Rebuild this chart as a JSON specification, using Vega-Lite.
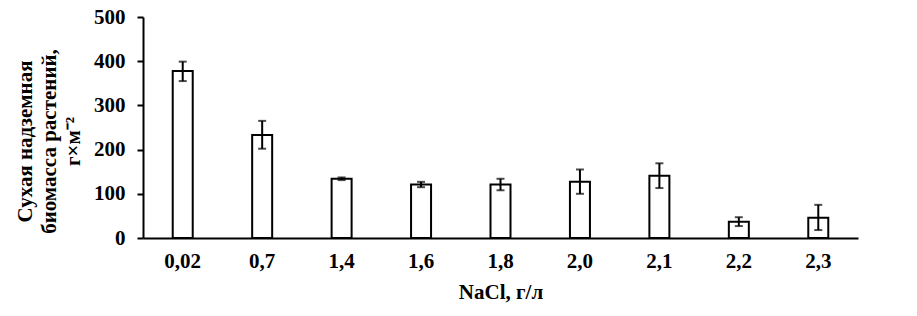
{
  "$schema": "https://vega.github.io/schema/vega-lite/v6.json",
  "autosize": "none",
  "width": 715,
  "height": 221,
  "padding": {"left": 143, "top": 17, "right": 59, "bottom": 78},
  "background": "white",
  "config": {
    "view": {"stroke": null},
    "font": "Liberation Serif",
    "axis": {"domainColor": "black", "domainWidth": 2, "tickColor": "black", "tickWidth": 2, "grid": false,
             "labelFont": "Liberation Serif", "labelFontWeight": "bold", "labelFontSize": 21, "labelColor": "black",
             "titleFont": "Liberation Serif", "titleFontWeight": "bold", "titleFontSize": 21, "titleColor": "black"}
  },
  "data": {"values": [
    {"nacl": "0,02", "mass": 378, "lo": 355, "hi": 399},
    {"nacl": "0,7", "mass": 233, "lo": 202, "hi": 265},
    {"nacl": "1,4", "mass": 134, "lo": 131, "hi": 137},
    {"nacl": "1,6", "mass": 121, "lo": 115, "hi": 127},
    {"nacl": "1,8", "mass": 121, "lo": 108, "hi": 134},
    {"nacl": "2,0", "mass": 127, "lo": 100, "hi": 155},
    {"nacl": "2,1", "mass": 141, "lo": 113, "hi": 169},
    {"nacl": "2,2", "mass": 37, "lo": 27, "hi": 47},
    {"nacl": "2,3", "mass": 46, "lo": 18, "hi": 75}
  ]},
  "encoding": {
    "x": {"field": "nacl", "type": "nominal", "sort": null,
          "scale": {"paddingInner": 0, "paddingOuter": 0},
          "axis": {"title": "NaCl, г/л", "labelAngle": 0, "ticks": false, "labelPadding": 12, "titlePadding": 10}}
  },
  "layer": [
    {
      "mark": {"type": "bar", "size": 20, "fill": "white", "stroke": "black", "strokeWidth": 2},
      "encoding": {
        "y": {"field": "mass", "type": "quantitative",
              "scale": {"domain": [0, 500]},
              "axis": {"values": [0, 100, 200, 300, 400, 500], "tickSize": 6, "labelPadding": 12, "titlePadding": 10,
                       "title": ["Сухая надземная", "биомасса растений,", "г×м⁻²"], "titleLineHeight": 24, "titleY": 124}}
      }
    },
    {
      "mark": {"type": "rule", "color": "black", "strokeWidth": 2},
      "encoding": {"y": {"field": "lo", "type": "quantitative"}, "y2": {"field": "hi"}}
    },
    {
      "mark": {"type": "tick", "color": "black", "thickness": 2, "size": 8, "orient": "horizontal"},
      "encoding": {"y": {"field": "lo", "type": "quantitative"}}
    },
    {
      "mark": {"type": "tick", "color": "black", "thickness": 2, "size": 8, "orient": "horizontal"},
      "encoding": {"y": {"field": "hi", "type": "quantitative"}}
    }
  ]
}
